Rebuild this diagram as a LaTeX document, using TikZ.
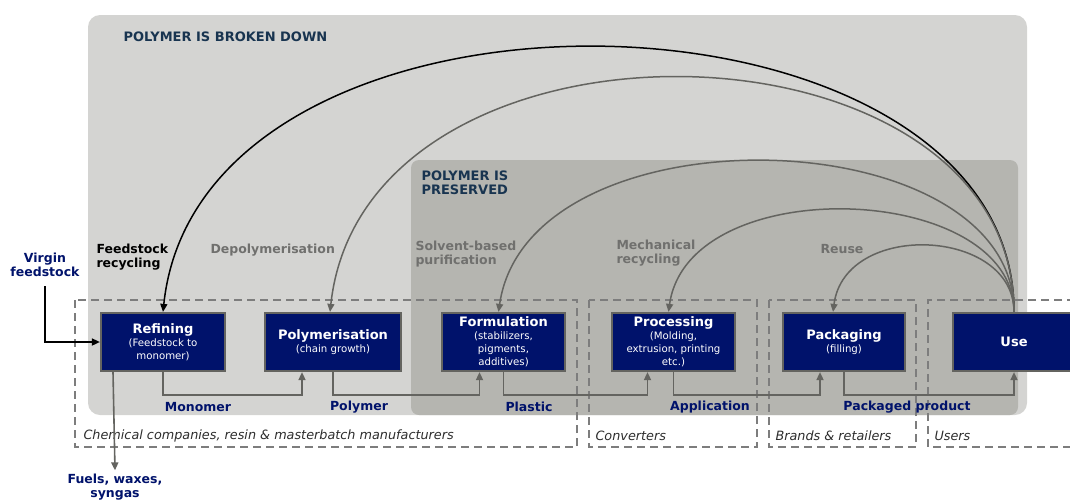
\documentclass[tikz,border=0pt]{standalone}
\usepackage{fontspec}
\setmainfont{DejaVu Sans}
\usetikzlibrary{arrows.meta,calc}

\definecolor{navy}{RGB}{0,18,107}
\definecolor{bglight}{RGB}{212,212,210}
\definecolor{bgdark}{RGB}{181,181,176}
\definecolor{linegray}{RGB}{100,100,96}
\definecolor{dashgray}{RGB}{125,125,125}
\definecolor{titleblue}{RGB}{24,52,80}
\definecolor{arctext}{RGB}{112,112,110}
\definecolor{grouptext}{RGB}{45,45,45}

% small print inside the stage boxes
\newcommand{\subtxt}{\mdseries\fontsize{10.2}{12.5}\selectfont}

\tikzset{
  stage/.style={draw=linegray, line width=2.2pt, fill=navy, text=white,
    align=center, minimum height=58pt, inner sep=0pt,
    font=\bfseries\fontsize{13}{15}\selectfont},
  flow/.style={draw=linegray, line width=1.6pt,
    -{Triangle[length=8pt,width=7pt]}},
  flowblack/.style={flow, draw=black},
  loop/.style={flow, line width=1.5pt},
  product/.style={text=navy, font=\bfseries\fontsize{12.5}{14}\selectfont},
  route/.style={text=arctext, align=left, anchor=west,
    font=\bfseries\fontsize{12.5}{14.5}\selectfont},
  group/.style={draw=dashgray, line width=1.8pt, dash pattern=on 8pt off 5pt},
  grouplabel/.style={text=grouptext, anchor=west,
    font=\itshape\fontsize{12.8}{14}\selectfont},
  zone/.style={text=titleblue, align=left, anchor=west,
    font=\bfseries\fontsize{13}{14.5}\selectfont},
}

\begin{document}
\begin{tikzpicture}[x=1pt, y=-1pt]
  \useasboundingbox (0,0) rectangle (1070,501);

  % Background zones
  \fill[bglight, rounded corners=12pt] (88,15) rectangle (1027,415);
  \fill[bgdark, rounded corners=8pt] (411,160) rectangle (1018,415);
  \node[zone] (broken) at (120,37) {POLYMER IS BROKEN DOWN};
  \node[zone] (kept) at (418,183) {POLYMER IS\\PRESERVED};

  % Dashed groups of actors
  \draw[group] (75,300) rectangle (577,447);
  \draw[group] (589,300) rectangle (757,447);
  \draw[group] (769,300) rectangle (916,447);
  \draw[group] (1075,300) -- (928,300) -- (928,447) -- (1075,447);
  \node[grouplabel] (chem) at (80,436) {Chemical companies, resin \& masterbatch manufacturers};
  \node[grouplabel] (conv) at (592,436) {Converters};
  \node[grouplabel] (brand) at (772,436) {Brands \& retailers};
  \node[grouplabel] (users) at (931,436) {Users};

  % Nodes with manual coordinates
  \node[stage, minimum width=124pt] (ref) at (163,342)
    {Refining\\[-2pt]{\subtxt (Feedstock to}\\[-2pt]{\subtxt monomer)}};
  \node[stage, minimum width=136pt] (pol) at (333,342)
    {Polymerisation\\[-2pt]{\subtxt (chain growth)}};
  \node[stage, minimum width=123pt] (form) at (503.5,342)
    {Formulation\\[-2pt]{\subtxt (stabilizers,}\\[-2pt]{\subtxt pigments,}\\[-2pt]{\subtxt additives)}};
  \node[stage, minimum width=123pt] (proc) at (673.5,342)
    {Processing\\[-2pt]{\subtxt (Molding,}\\[-2pt]{\subtxt extrusion, printing}\\[-2pt]{\subtxt etc.)}};
  \node[stage, minimum width=122pt] (pack) at (844,342)
    {Packaging\\[-2pt]{\subtxt (filling)}};
  \node[stage, minimum width=122pt] (use) at (1014,342) {Use};

  \node[product, align=center] (virgin) at (45,265) {Virgin\\feedstock};
  \node[product, align=center] (fuels) at (115,487) {Fuels, waxes,\\syngas};

  % Main chain
  \draw[flow] (ref.south) -- ++(0,23) -| ($(pol.south)+(-31,0)$);
  \draw[flow] (pol.south) -- ++(0,23) -| ($(form.south)+(-24,0)$);
  \draw[flow] (form.south) -- ++(0,23) -| ($(proc.south)+(-26,0)$);
  \draw[flow] (proc.south) -- ++(0,23) -| ($(pack.south)+(-24,0)$);
  \draw[flow] (pack.south) -- ++(0,23) -| (use.south);
  \node[product] (mono) at (198,407) {Monomer};
  \node[product] (poly) at (359,407) {Polymer};
  \node[product] (plas) at (529,407) {Plastic};
  \node[product] (appl) at (710,407) {Application};
  \node[product] (packd) at (907,407) {Packaged product};

  % Inputs and outputs
  \draw[flowblack] ($(virgin.south)+(0,6)$) |- (ref.west);
  \draw[flow] ($(ref.south)+(-50,0)$) -- (fuels.north);

  % Loops back from use
  \draw[loop, draw=black] (use.north) .. controls +(0,-343) and +(38,-363) .. (ref.north);
  \draw[loop] (use.north) .. controls +(0,-305) and +(35,-320) .. ($(pol.north)+(-3,0)$);
  \draw[loop] (use.north) .. controls +(0,-195) and +(30,-207) .. ($(form.north)+(-5,0)$);
  \draw[loop] (use.north) .. controls +(0,-130) and +(20,-142) .. ($(proc.north)+(-5,0)$);
  \draw[loop] (use.north) .. controls +(0,-84) and +(12,-92) .. ($(pack.north)+(-11,0)$);

  \node[route, text=black] (fsr) at (93,257) {Feedstock\\recycling};
  \node[route] (depol) at (207,250) {Depolymerisation};
  \node[route] (solv) at (412,254) {Solvent-based\\purification};
  \node[route] (mech) at (613,253) {Mechanical\\recycling};
  \node[route] (reuse) at (817,249) {Reuse};
\end{tikzpicture}
\end{document}
